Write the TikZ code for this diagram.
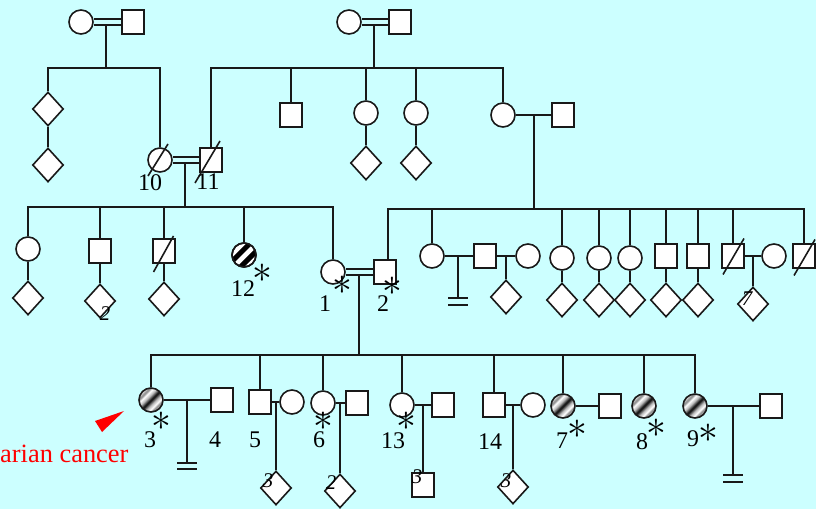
\documentclass[tikz,border=0pt]{standalone}
\usepackage{fontspec}
\setmainfont{Liberation Serif}
\usetikzlibrary{shapes.geometric,calc}
\definecolor{bg}{RGB}{204,255,255}
\definecolor{ln}{RGB}{25,25,25}
\pgfdeclarehorizontalshading{affband}{100bp}{color(0bp)=(white); color(26bp)=(gray!30); color(31bp)=(gray); color(36bp)=(white); color(42bp)=(gray!50); color(50bp)=(black); color(58bp)=(gray!50); color(64bp)=(white); color(69bp)=(gray); color(74bp)=(gray!30); color(100bp)=(white)}
\newcommand{\astmark}{\scalebox{1.6}{$\ast$}}
\begin{document}
\begin{tikzpicture}[x=1bp,y=-1bp,
  fem/.style={circle, draw=ln, line width=1.6bp, fill=white, minimum size=24bp, inner sep=0pt},
  mal/.style={rectangle, draw=ln, line width=1.6bp, fill=white, minimum width=22bp, minimum height=24bp, inner sep=0pt},
  unk/.style={diamond, draw=ln, line width=1.6bp, fill=white, minimum width=31bp, minimum height=34bp, inner sep=0pt},
  aff/.style={shade, shading=affband, shading angle=-45},
  lk/.style={draw=ln, line width=1.6bp},
  mate/.style={draw=ln, line width=1.6bp, double=bg, double distance=4.4bp},
  num/.style={font=\fontsize{24}{24}\selectfont, inner sep=0pt},
  ast/.style={font=\fontsize{24}{24}\selectfont, inner sep=0pt},
  sub/.style={font=\fontsize{21}{21}\selectfont\itshape, inner sep=0pt}]
\fill[bg] (0,0) rectangle (816,509);
\useasboundingbox (0,0) rectangle (816,509);

% ---------- generation 1
\node[fem] (a1) at (81,22) {};
\node[mal] (a2) at (133,22) {};
\node[fem] (b1) at (349,22) {};
\node[mal] (b2) at (400,22) {};
\coordinate (ma) at (106,22);
\coordinate (mb) at (374,22);

% ---------- generation 2
\coordinate (sA) at (0,68);
\node[unk] (d1) at (48,109) {};
\node[unk] (d2) at (48,165) {};
\node[fem] (p10) at (160,160) {};
\node[mal] (p11) at (211,160) {};
\node[mal] (s1) at (291,115) {};
\node[fem] (c1) at (366,113) {};
\node[unk] (c1d) at (366,163) {};
\node[fem] (c2) at (416,113) {};
\node[unk] (c2d) at (416,163) {};
\node[fem] (c3) at (503,115) {};
\node[mal] (c3s) at (563,115) {};
\coordinate (mc) at (534,115);
\coordinate (m10) at (185,160);

% ---------- generation 3
\coordinate (sB) at (0,207);
\coordinate (sC) at (0,209);
\node[fem] (g1) at (28,249) {};
\node[unk] (g1d) at (28,298) {};
\node[mal] (g2) at (100,251) {};
\node[unk] (g2d) at (100,301) {};
\node[mal] (g3) at (164,251) {};
\node[unk] (g3d) at (164,299) {};
\node[fem] (p12) at (244,255) {};
\node[fem] (p1) at (333,272) {};
\node[mal] (p2) at (385,272) {};
\coordinate (m12) at (359,272);

\node[fem] (h1) at (432,256) {};
\node[mal] (h1s) at (485,256) {};
\node[fem] (h2) at (528,256) {};
\node[unk] (h2d) at (506,297) {};
\node[fem] (i1) at (562,258) {};
\node[unk] (i1d) at (562,300) {};
\node[fem] (i2) at (599,258) {};
\node[unk] (i2d) at (599,300) {};
\node[fem] (i3) at (630,258) {};
\node[unk] (i3d) at (630,300) {};
\node[mal] (j1) at (666,256) {};
\node[unk] (j1d) at (666,300) {};
\node[mal] (j2) at (698,256) {};
\node[unk] (j2d) at (698,300) {};
\node[mal] (k1) at (733,256) {};
\node[fem] (k1s) at (774,256) {};
\node[unk] (k1d) at (753,304) {};
\node[mal] (k2) at (804,256) {};
\coordinate (mh) at (458,256);
\coordinate (mh2) at (506,256);
\coordinate (mk) at (753,256);

% ---------- generation 4
\coordinate (sD) at (0,355);
\node[fem,aff] (q3) at (151,400) {};
\node[mal] (q4) at (222,400) {};
\node[mal] (q5) at (260,402) {};
\node[fem] (q5s) at (292,402) {};
\node[unk] (q5d) at (276,488) {};
\node[fem] (q6) at (323,403) {};
\node[mal] (q6s) at (357,403) {};
\node[unk] (q6d) at (340,491) {};
\node[fem] (q13) at (402,405) {};
\node[mal] (q13s) at (443,405) {};
\node[mal] (q13c) at (423,485) {};
\node[mal] (q14) at (494,405) {};
\node[fem] (q14s) at (533,405) {};
\node[unk] (q14d) at (513,487) {};
\node[fem,aff] (q7) at (563,406) {};
\node[mal] (q7s) at (610,406) {};
\node[fem,aff] (q8) at (644,406) {};
\node[fem,aff] (q9) at (695,406) {};
\node[mal] (q9s) at (771,406) {};
\coordinate (mq3) at (187,400);
\coordinate (mq5) at (276,402);
\coordinate (mq6) at (340,403);
\coordinate (mq13) at (423,405);
\coordinate (mq14) at (513,405);
\coordinate (mq9) at (733,406);

% ---------- circle 12 stripes
\begin{scope}
  \clip (p12.center) circle (11.5);
  \fill[black, rotate around={45:(p12.center)}] ($(p12.center)+(-16,-6.5)$) rectangle ($(p12.center)+(16,-1.5)$);
  \fill[black, rotate around={45:(p12.center)}] ($(p12.center)+(-16,3.5)$) rectangle ($(p12.center)+(16,8.5)$);
\end{scope}
\draw[ln, line width=1.6bp] (p12.center) circle (12);

% ---------- connectors gen1 -> gen2
\draw[lk] (ma) -- (ma |- sA);
\draw[lk] (d1.north) -- (d1.north |- sA) -- (p10.north |- sA) -- (p10.north);
\draw[lk] (d1.south) -- (d2.north);
\draw[lk] (mb) -- (mb |- sA);
\draw[lk] (p11.north) -- (p11.north |- sA) -- (c3.north |- sA) -- (c3.north);
\draw[lk] (s1.north) -- (s1.north |- sA);
\draw[lk] (c1.north) -- (c1.north |- sA);
\draw[lk] (c2.north) -- (c2.north |- sA);
\draw[lk] (c1.south) -- (c1d.north);
\draw[lk] (c2.south) -- (c2d.north);
\draw[lk] (c3.east) -- (c3s.west);
\draw[mate] (a1.east) -- (a2.west);
\draw[mate] (b1.east) -- (b2.west);

% ---------- gen2 -> gen3
\draw[lk] (m10) -- (m10 |- sB);
\draw[mate] (p10.east) -- (p11.west);
\draw[lk] (g1.north) -- (g1.north |- sB) -- (p1.north |- sB) -- (p1.north);
\draw[lk] (g2.north) -- (g2.north |- sB);
\draw[lk] (g3.north) -- (g3.north |- sB);
\draw[lk] (p12.north) -- (p12.north |- sB);
\draw[lk] (g1.south) -- (g1d.north);
\draw[lk] (g2.south) -- (g2d.north);
\draw[lk] (g3.south) -- (g3d.north);

\draw[lk] (mc) -- (mc |- sC);
\draw[lk] ([xshift=3bp]p2.north) -- ([xshift=3bp]p2.north |- sC) -- (k2.north |- sC) -- (k2.north);
\foreach \n in {h1,i1,i2,i3,j1,j2,k1} { \draw[lk] (\n.north) -- (\n.north |- sC); }
\foreach \n in {i1,i2,i3,j1,j2} { \draw[lk] (\n.south) -- (\n d.north); }
\draw[lk] (h1.east) -- (h1s.west);
\draw[lk] (mh) -- ++(0,42) coordinate (mhb);
\draw[lk] ([xshift=-10bp]mhb) -- ([xshift=10bp]mhb);
\draw[lk] ([shift={(-10,7)}]mhb) -- ([shift={(10,7)}]mhb);
\draw[lk] (h1s.east) -- (h2.west);
\draw[lk] (mh2) -- (mh2 |- h2d.north);
\draw[lk] (k1.east) -- (k1s.west);
\draw[lk] (mk) -- (mk |- k1d.north);

% slashes (deceased)
\draw[lk] ([shift={(-12,16)}]p10.center) -- ([shift={(8,-16)}]p10.center);
\draw[lk] ([shift={(-16,23)}]p11.center) -- ([shift={(9,-19)}]p11.center);
\draw[lk] ([shift={(-10.5,21)}]g3.center) -- ([shift={(9.5,-15)}]g3.center);
\draw[lk] ([shift={(-10,18.5)}]k1.center) -- ([shift={(11,-17.5)}]k1.center);
\draw[lk] ([shift={(-10,19.5)}]k2.center) -- ([shift={(11,-16.5)}]k2.center);

% ---------- gen3 -> gen4
\draw[lk] (m12) -- (m12 |- sD);
\draw[mate] (p1.east) -- (p2.west);
\draw[lk] (q3.north) -- (q3.north |- sD) -- (q9.north |- sD) -- (q9.north);
\foreach \n in {q5,q6,q13,q14,q7,q8} { \draw[lk] (\n.north) -- (\n.north |- sD); }
\draw[lk] (q3.east) -- (q4.west);
\draw[lk] (mq3) -- ++(0,63) coordinate (mq3b);
\draw[lk] ([xshift=-10bp]mq3b) -- ([xshift=10bp]mq3b);
\draw[lk] ([shift={(-10,6)}]mq3b) -- ([shift={(10,6)}]mq3b);
\draw[lk] (q5.east) -- (q5s.west);
\draw[lk] (mq5) -- (mq5 |- q5d.north);
\draw[lk] (q6.east) -- (q6s.west);
\draw[lk] (mq6) -- (mq6 |- q6d.north);
\draw[lk] (q13.east) -- (q13s.west);
\draw[lk] (mq13) -- (mq13 |- q13c.north);
\draw[lk] (q14.east) -- (q14s.west);
\draw[lk] (mq14) -- (mq14 |- q14d.north);
\draw[lk] (q7.east) -- (q7s.west);
\draw[lk] (q9.east) -- (q9s.west);
\draw[lk] (mq9) -- ++(0,69) coordinate (mq9b);
\draw[lk] ([xshift=-10bp]mq9b) -- ([xshift=10bp]mq9b);
\draw[lk] ([shift={(-10,7)}]mq9b) -- ([shift={(10,7)}]mq9b);

% ---------- labels
\node[num] (l10) at (150,183) {10};
\node[num] (l11) at (208,182) {11};
\node[num] (l12) at (243,289) {12};
\node[ast] (a12) at (262,273) {\astmark};
\node[num] (l1) at (325,304) {1};
\node[ast] (a1s) at (342,285) {\astmark};
\node[num] (l2) at (383,304) {2};
\node[ast] (a2s) at (392,286) {\astmark};
\node[sub] (n2) at (105,314) {2};
\node[sub] (n7) at (747,299) {7};

\node[num] (l3) at (150,439.5) {3};
\node[ast] (a3s) at (161,421) {\astmark};
\node[num] (l4) at (215,439.5) {4};
\node[num] (l5) at (255,440) {5};
\node[num] (l6) at (319,440) {6};
\node[ast] (a6s) at (323,421) {\astmark};
\node[num] (l13) at (393,440.5) {13};
\node[ast] (a13s) at (406,421) {\astmark};
\node[num] (l14) at (490,442) {14};
\node[num] (l7) at (562,441) {7};
\node[ast] (a7s) at (577,429) {\astmark};
\node[num] (l8) at (642,442) {8};
\node[ast] (a8s) at (656,428) {\astmark};
\node[num] (l9) at (693,439) {9};
\node[ast] (a9s) at (708,433) {\astmark};
\node[sub] (n3a) at (268,481) {3};
\node[sub] (n2a) at (331,483) {2};
\node[sub] (n3b) at (417,477) {3};
\node[sub] (n3c) at (506,481) {3};

% ---------- red marker
\fill[red] (95,421) -- (124,411) -- (102,432) -- cycle;
\node[anchor=base west, text=red, font=\fontsize{26.5}{26.5}\selectfont, inner sep=0pt] (oc) at (0,462) {arian cancer};
\end{tikzpicture}
\end{document}
